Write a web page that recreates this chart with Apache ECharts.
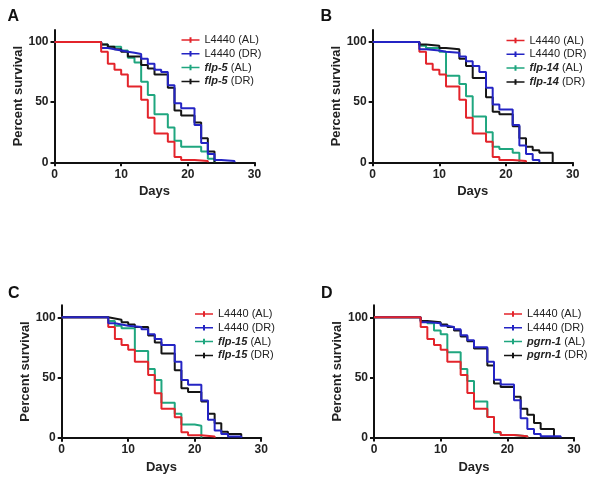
<!DOCTYPE html>
<html><head><meta charset="utf-8">
<script src="https://cdn.jsdelivr.net/npm/echarts@6/dist/echarts.min.js"></script>
<style>html,body{margin:0;padding:0;background:#fff}#c{width:600px;height:479px}</style>
</head><body><div id="c"></div>
<script>
// ---- data (day, percent survival) ----
const l4440AL = [[0,100],[7,92],[8,82],[9,77],[10,73],[11,63],[13,52],[14,37],[15,24],[17,17],[18,4.5],[19,2],[21,1],[23,0]];
const l4440DR_A = [[0,100],[7,95],[8,94],[9,93],[10,92],[11,91],[12,90],[13,86],[14,82],[15,77],[16,75],[17,64],[18,49],[19,45],[21,31],[22,16],[23,7],[24,2],[25,1],[27,0]];
const l4440DR_B = [[0,100],[7,94],[8,93],[10,92],[11,91],[13,88],[14,84],[15,80],[16,75],[17,62],[18,48],[19,44],[21,31],[22,14],[23,7],[24,2],[25,0]];
const l4440DR_C = [[0,100],[7,95],[8,94],[9,93],[10,92],[12,90],[13,86],[14,82],[15,77],[17,63],[18,48],[19,44],[21,31],[22,15],[23,6],[24,3],[25,1],[27,0]];
const l4440DR_D = [[0,100],[7,96],[8,95],[10,93],[11,92],[12,90],[13,85],[14,81],[15,75],[17,63],[18,48],[19,44],[21,31],[22,16],[23,7],[24,3],[25,1],[28,0]];
const flp5AL  = [[0,100],[7,98],[8,96],[10,93],[11,87],[12,83],[13,67],[14,56],[15,40],[17,29],[18,18],[19,13],[22,9],[23,3],[24,0]];
const flp5DR  = [[0,100],[7,98],[8,96],[9,94],[10,92],[11,88],[13,81],[14,78],[15,73],[17,62],[18,43],[19,39],[21,33],[22,20],[23,9],[24,0]];
const flp14AL = [[0,100],[7,97],[8,95],[10,92],[11,72],[13,65],[14,55],[15,38],[17,25],[18,13],[19,11],[21,8],[22,0]];
const flp14DR = [[0,100],[7,98],[8,97],[10,95],[11,94],[13,86],[14,80],[15,70],[17,54],[18,42],[19,40],[21,30],[22,20],[23,13],[24,10],[25,8],[27,0]];
const flp15AL = [[0,100],[7,97],[8,93],[9,91],[11,72],[13,57],[14,48],[15,29],[17,20],[18,11],[20,10],[21,0]];
const flp15DR = [[0,100],[7,99],[8,98],[9,96],[10,94],[11,92],[13,85],[14,79],[15,70],[17,56],[18,41],[19,38],[21,30],[22,20],[23,12],[24,5],[25,3],[27,0]];
const pgrn1AL = [[0,100],[7,97],[8,95],[9,89],[10,86],[11,71],[13,57],[14,47],[15,30],[17,17],[18,4],[19,2],[21,1],[23,0]];
const pgrn1DR = [[0,100],[7,97],[8,96],[10,94],[11,92],[12,89],[13,84],[14,80],[15,74],[17,60],[18,45],[19,42],[21,34],[22,24],[23,19],[24,12],[25,7],[27,0]];

const panelLetters = ['A','B','C','D'];
const genes = ['flp-5','flp-14','flp-15','pgrn-1'];
const xTicks = [0,10,20,30];
const yTicks = [0,50,100];

const panels = [
  {dr: l4440DR_A, al: flp5AL, drg: flp5DR, redTop: true},
  {dr: l4440DR_B, al: flp14AL, drg: flp14DR, redTop: false},
  {dr: l4440DR_C, al: flp15AL, drg: flp15DR, redTop: false},
  {dr: l4440DR_D, al: pgrn1AL, drg: pgrn1DR, redTop: true}
];

// ---- layout ----
const grids = [
  {left: 54.5, top: 30, width: 200, height: 132.3},
  {left: 372.7, top: 30, width: 200, height: 132.3},
  {left: 61.7, top: 305.3, width: 199.5, height: 132.4},
  {left: 374, top: 305.3, width: 200, height: 132.2}
];
const legendPos = [
  {left: 176.5, top: 29.5},
  {left: 501.5, top: 30},
  {left: 190, top: 303.5},
  {left: 499, top: 303.5}
];
const letterPos = [[7.5,9],[320.5,9],[8,286],[321,286]];

const RED = '#e3242b', BLUE = '#2424c4', GREEN = '#1fa67f', BLACK = '#151515';
const FONT = 'Liberation Sans, Arial, sans-serif';

const option = {
  animation: false,
  backgroundColor: '#fff',
  grid: grids.map(g => Object.assign({containLabel: false}, g)),
  xAxis: grids.map((g, i) => ({
    gridIndex: i, type: 'value', min: 0, max: 30, interval: 10,
    name: 'Days', nameLocation: 'middle', nameGap: 23,
    nameTextStyle: {fontFamily: FONT, fontWeight: 'bold', fontSize: 13, color: '#222'},
    axisLine: {lineStyle: {color: '#111', width: 2}},
    axisTick: {length: 4, lineStyle: {color: '#111', width: 2}},
    axisLabel: {fontFamily: FONT, fontWeight: 'bold', fontSize: 12, color: '#222', margin: 6},
    splitLine: {show: false}
  })),
  yAxis: grids.map((g, i) => ({
    gridIndex: i, type: 'value', min: 0, max: 110, interval: 50,
    name: 'Percent survival', nameLocation: 'middle', nameGap: 27,
    nameTextStyle: {fontFamily: FONT, fontWeight: 'bold', fontSize: 13, color: '#222'},
    axisLine: {show: true, lineStyle: {color: '#111', width: 2}},
    axisTick: {show: true, length: 4, lineStyle: {color: '#111', width: 2}, customValues: yTicks},
    axisLabel: {fontFamily: FONT, fontWeight: 'bold', fontSize: 12, color: '#222', margin: 6, customValues: yTicks},
    splitLine: {show: false}
  })),
  legend: panels.map((p, i) => ({
    orient: 'vertical', left: legendPos[i].left, top: legendPos[i].top,
    itemWidth: 18, itemHeight: 8, itemGap: 2.8,
    icon: 'path://M0,5 L36,5 L36,8 L0,8 Z M16,1 L20,1 L20,12 L16,12 Z',
    data: ['L4440 (AL)', 'L4440 (DR)', genes[i] + ' (AL)', genes[i] + ' (DR)'],
    formatter: function (name) {
      const g = genes[i];
      if (name.indexOf(g) === 0) return '{i|' + g + '}' + name.slice(g.length);
      return name;
    },
    textStyle: {fontFamily: FONT, fontSize: 11, color: '#222', lineHeight: 11,
      rich: {i: {fontFamily: FONT, fontSize: 11, fontStyle: 'italic', fontWeight: 'bold', color: '#222', lineHeight: 11}}}
  })),
  graphic: panelLetters.map((t, i) => ({
    type: 'text', left: letterPos[i][0], top: letterPos[i][1],
    style: {text: t, fontFamily: FONT, fontWeight: 'bold', fontSize: 16, fill: '#111'}
  })),
  series: []
};

function line(name, data, color, i, z) {
  return {name: name, type: 'line', step: 'end', data: data, xAxisIndex: i, yAxisIndex: i,
    symbol: 'none', z: z, color: color, itemStyle: {color: color},
    lineStyle: {color: color, width: 2}, emphasis: {disabled: true}};
}
panels.forEach((p, i) => {
  const s = [];
  s.push(line(genes[i] + ' (AL)', p.al, GREEN, i, 2));
  s.push(line(genes[i] + ' (DR)', p.drg, BLACK, i, 3));
  s.push(line('L4440 (DR)', p.dr, BLUE, i, p.redTop ? 4 : 6));
  s.push(line('L4440 (AL)', l4440AL, RED, i, p.redTop ? 5 : 2));
  option.series.push(...s);
});

const chart = echarts.init(document.getElementById('c'), null, {renderer: 'canvas'});
chart.setOption(option);
</script></body></html>
